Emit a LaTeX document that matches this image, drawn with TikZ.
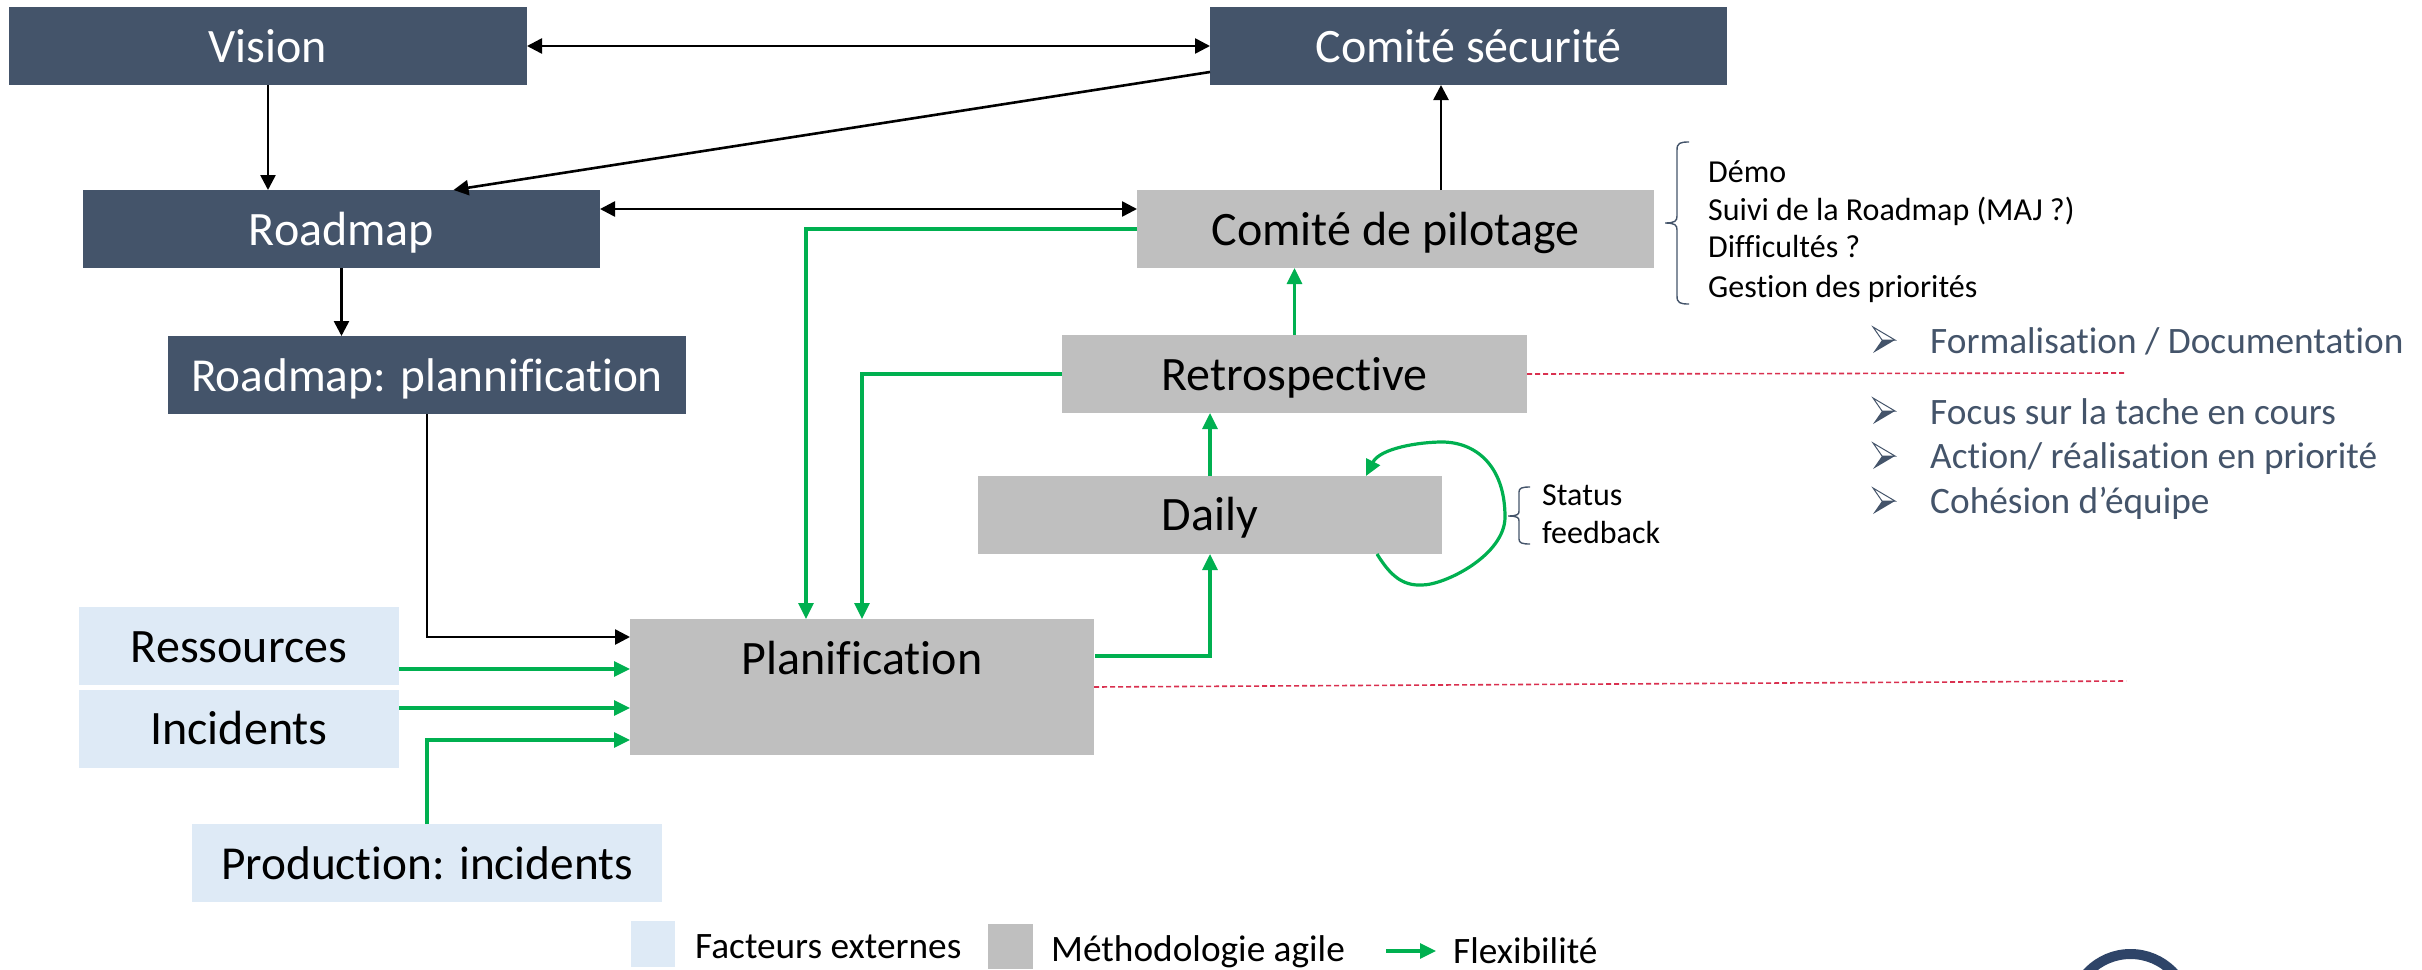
\documentclass[tikz,border=0pt]{standalone}
\usepackage{fontspec}
\setmainfont[Ligatures=NoCommon]{Carlito}
\usetikzlibrary{arrows.meta}
\definecolor{navy}{HTML}{44546A}
\definecolor{logoblue}{HTML}{2E4468}
\definecolor{greybox}{HTML}{BFBFBF}
\definecolor{paleblue}{HTML}{DEEAF6}
\definecolor{agile}{HTML}{00B050}
\definecolor{redline}{HTML}{D9304F}
\newcommand{\bigtxt}{\fontsize{48}{50}\selectfont}
\newcommand{\narrowtxt}{\fontsize{47.3}{50}\selectfont}
\newcommand{\smalltxt}{\fontsize{32}{37}\selectfont}
\newcommand{\bullettxt}{\fontsize{37.3}{40}\selectfont}
\newcommand{\legendtxt}{\fontsize{37.3}{40}\selectfont}
\tikzset{
  x=1pt,y=-1pt,
  boxbase/.style={inner sep=0pt,outer sep=0pt,font=\bigtxt,align=center,text height=32pt,text depth=0pt},
  darkbox/.style={boxbase,fill=navy,text=white,minimum width=518pt,minimum height=78pt},
  greyb/.style={boxbase,fill=greybox,text=black},
  paleb/.style={boxbase,fill=paleblue,text=black},
  blackline/.style={draw=black,line width=2.6pt,-{Triangle[length=15pt,width=15pt]}},
  blackboth/.style={draw=black,line width=2.6pt,{Triangle[length=15pt,width=15pt]}-{Triangle[length=15pt,width=15pt]}},
  greenline/.style={draw=agile,line width=3.2pt,-{Triangle[length=16pt,width=15pt]}},
  redd/.style={draw=redline,line width=1.6pt,dash pattern=on 5pt off 3pt},
  bracel/.style={draw=navy,line width=1.4pt},
  smallt/.style={inner sep=0pt,anchor=base west,font=\smalltxt,text=black},
  bullt/.style={inner sep=0pt,anchor=base west,font=\bullettxt,text=navy},
  legt/.style={inner sep=0pt,anchor=base west,font=\legendtxt,text=black},
}
\newcommand{\bulletmark}[1]{%
  \draw[navy,line width=1pt,line join=miter] (1873,#1-13) -- (1895,#1) -- (1882,#1) -- cycle;
  \fill[navy] (1895,#1) -- (1873,#1+13) -- (1882,#1) -- cycle;
}
\begin{document}
\begin{tikzpicture}
\useasboundingbox (0,0) rectangle (2422,969);
% dark boxes
\node[darkbox] (vision) at (268,46) {Vision};
\node[darkbox,minimum width=517pt] (comsec) at (1468.5,46) {Comité sécurité};
\node[darkbox,minimum width=517pt] (roadmap) at (341.5,229) {Roadmap};
\node[darkbox,font=\narrowtxt] (plann) at (427,375) {Roadmap: plannification};
% grey boxes
\node[greyb,minimum width=517pt,minimum height=78pt] (pilot) at (1395.5,229) {Comité de pilotage};
\node[greyb,minimum width=465pt,minimum height=78pt] (retro) at (1294.5,374) {Retrospective};
\node[greyb,minimum width=464pt,minimum height=78pt,text height=30pt] (daily) at (1210,515) {Daily};
\node[greyb,minimum width=464pt,minimum height=136pt] (planif) at (862,687) {};
\node[boxbase,anchor=center] (planiflabel) at (862,658) {Planification};
% pale boxes
\node[paleb,minimum width=320pt,minimum height=78pt] (res) at (239,646) {Ressources};
\node[paleb,minimum width=320pt,minimum height=78pt,text height=30pt] (inc) at (239,729) {Incidents};
\node[paleb,minimum width=470pt,minimum height=78pt,font=\narrowtxt] (prod) at (427,863) {Production: incidents};
% black connectors
\draw[blackboth] (vision.east) -- (comsec.west);
\draw[blackline] (vision.south) -- (roadmap.north -| vision.south);
\draw[blackline] ([yshift=-26pt]comsec.west) -- ([xshift=112pt]roadmap.north);
\draw[blackboth] ([yshift=20pt]roadmap.east) -- ([yshift=20pt]pilot.west);
\draw[blackline] (roadmap.south) -- (plann.north -| roadmap.south);
\draw[blackline] (pilot.north -| 1441,0) -- (comsec.south -| 1441,0);
\draw[blackline] (plann.south) |- ([yshift=50pt]planif.west);
% green connectors
\draw[greenline] (pilot.west) -| ([xshift=-56pt]planif.north);
\draw[greenline] (retro.west) -| (planif.north);
\draw[greenline] (retro.north) -- (pilot.south -| retro.north);
\draw[greenline] (daily.north) -- (retro.south -| daily.north);
\draw[greenline] ([xshift=1pt,yshift=31pt]planif.east) -| (daily.south);
\draw[greenline] ([xshift=-65pt]daily.south east) .. controls (1390,575) and (1402,586) .. (1422,585)
  .. controls (1445,585) and (1505,555) .. (1505,517)
  .. controls (1505,465) and (1475,442) .. (1442,442)
  .. controls (1420,442) and (1380,448) .. ([xshift=-76pt]daily.north east);
\draw[greenline] ([yshift=-23pt]res.east) -- ([yshift=18pt]planif.west);
\draw[greenline] ([yshift=21pt]inc.east) -- ([yshift=-21pt]planif.west);
\draw[greenline] (prod.north) |- ([yshift=-53pt]planif.west);
% red dashed
\coordinate (redendA) at (2126,373);
\coordinate (redendB) at (2126,681);
\draw[redd] (retro.east) -- (redendA);
\draw[redd] (planif.east) -- (redendB);
% braces
\draw[bracel] (1689,142) .. controls (1680,142) and (1677,143) .. (1677,150) -- (1677,216)
  .. controls (1677,221) and (1675,223) .. (1665,223) .. controls (1675,223) and (1677,225) .. (1677,230)
  -- (1677,296) .. controls (1677,303) and (1680,304) .. (1689,304);
\draw[bracel] (1530,487) .. controls (1522,487) and (1519,488) .. (1519,492) -- (1519,511)
  .. controls (1519,514) and (1518,516) .. (1508,516) .. controls (1518,516) and (1519,518) .. (1519,521)
  -- (1519,539) .. controls (1519,543) and (1522,544) .. (1530,544);
% small text
\node[smallt] (t1) at (1708,182) {Démo};
\node[smallt] (t2) at (1708,220) {Suivi de la Roadmap (MAJ ?)};
\node[smallt] (t3) at (1708,257) {Difficultés ?};
\node[smallt] (t4) at (1708,297) {Gestion des priorités};
\node[smallt] (s1) at (1542,505) {Status};
\node[smallt] (s2) at (1542,543) {feedback};
% bullets
\bulletmark{340}\bulletmark{411}\bulletmark{456}\bulletmark{501}
\node[bullt] (b1) at (1930,353) {Formalisation / Documentation};
\node[bullt] (b2) at (1930,424) {Focus sur la tache en cours};
\node[bullt] (b3) at (1930,468) {Action/ réalisation en priorité};
\node[bullt] (b4) at (1930,513) {Cohésion d’équipe};
% legend
\node[paleb,minimum width=44pt,minimum height=46pt] (legA) at (653,944) {};
\node[legt] (legAt) at (695,958) {Facteurs externes};
\node[greyb,minimum width=45pt,minimum height=45pt] (legB) at (1010,946.5) {};
\node[legt] (legBt) at (1051,961) {Méthodologie agile};
\coordinate (legC) at (1386,951);
\coordinate (legCtip) at (1436,951);
\node[legt] (legCt) at (1453,963) {Flexibilité};
\draw[greenline] (legC) -- (legCtip);
% logo arc
\begin{scope}
\clip (0,0) rectangle (2422,969);
\draw[logoblue,line width=10pt] (2130.5,1013) circle[radius=59pt];
\end{scope}
\end{tikzpicture}
\end{document}
